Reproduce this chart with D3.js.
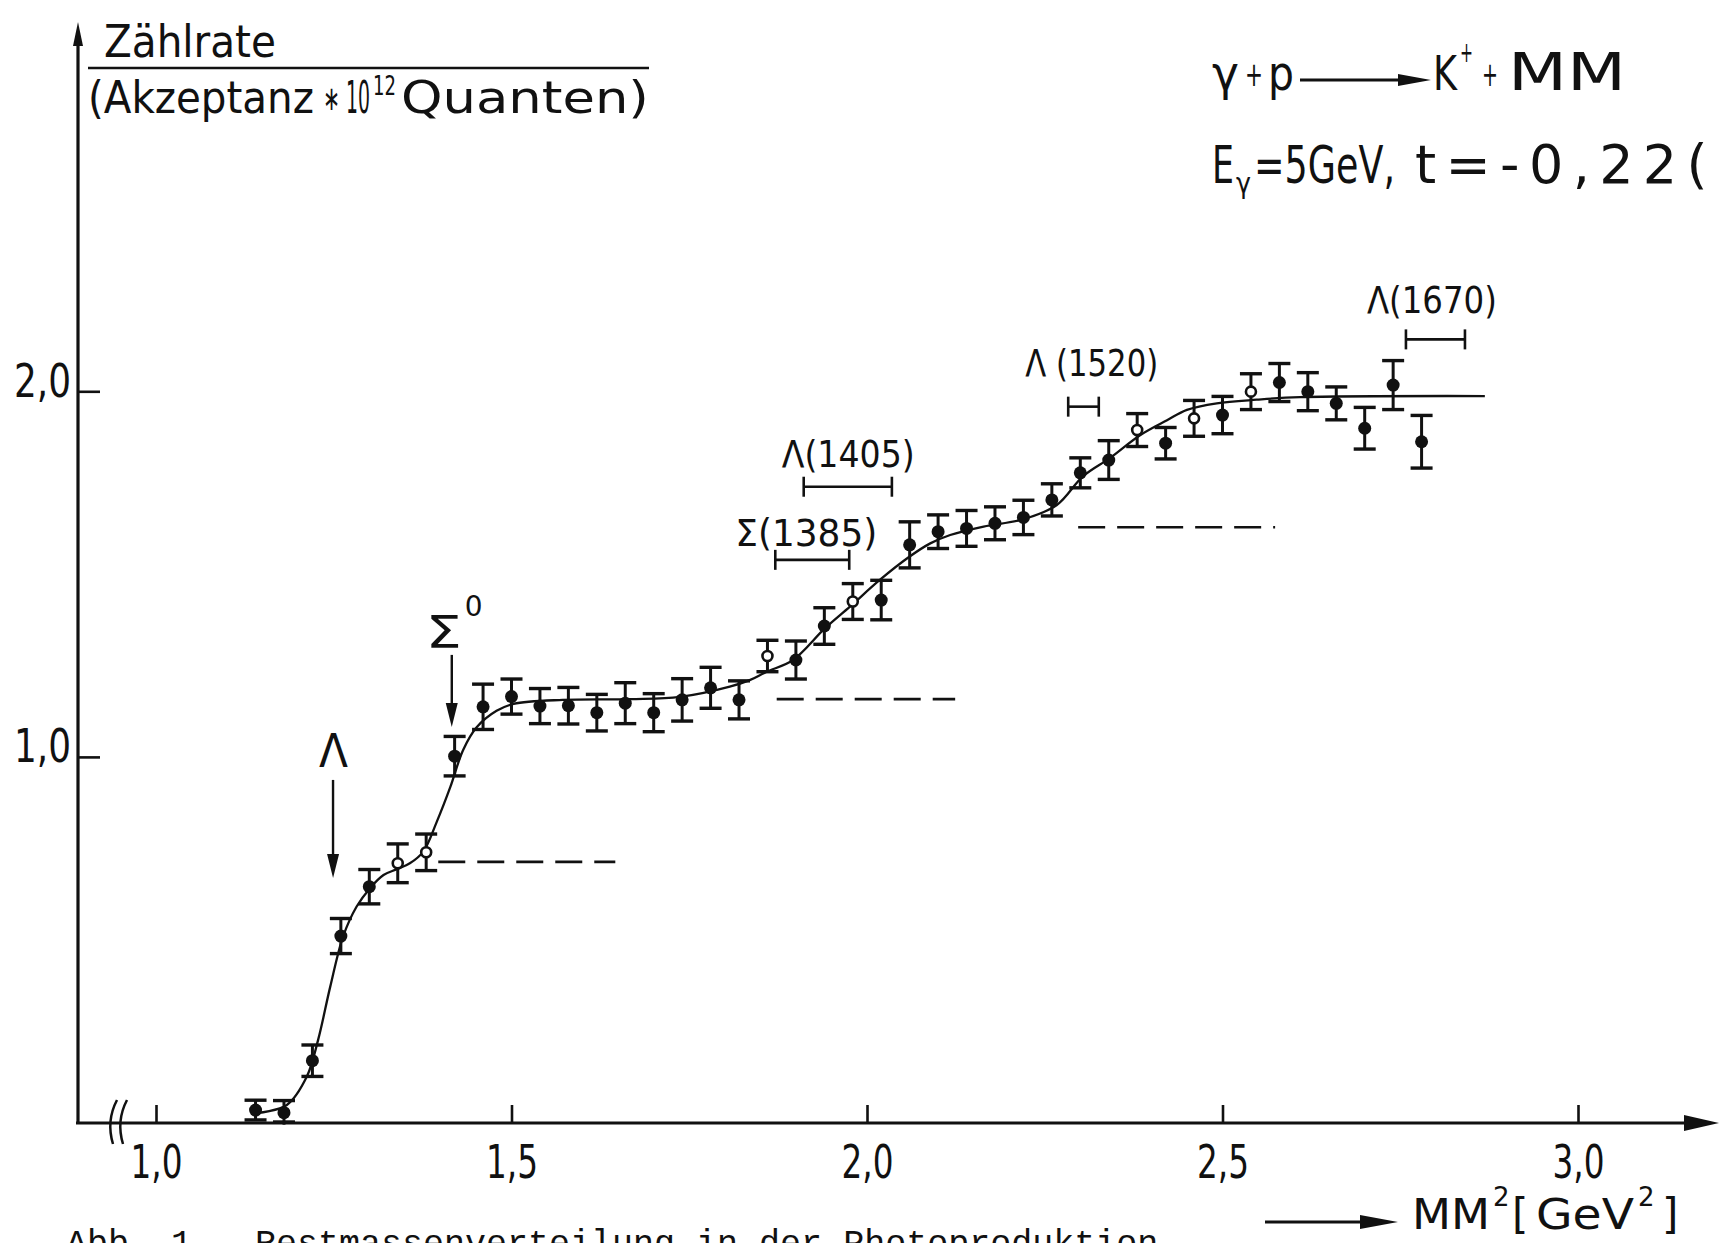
<!DOCTYPE html>
<html>
<head>
<meta charset="utf-8">
<script src="https://cdn.jsdelivr.net/npm/d3@7/dist/d3.min.js"></script>
<style>
  html, body { margin: 0; padding: 0; background: #fff; overflow: hidden; }
  svg { display: block; }
  text { font-family: "DejaVu Sans", "Liberation Sans", sans-serif; fill: #111; }
  .mono { font-family: "Liberation Mono", "DejaVu Sans Mono", monospace; }
</style>
</head>
<body>
<svg id="chart" width="1720" height="1243"></svg>
<script>
// ─── Data ────────────────────────────────────────────────────────────────────
const massSq = [1.14, 1.18, 1.22, 1.26, 1.30, 1.34, 1.38, 1.42, 1.46, 1.50,
                1.54, 1.58, 1.62, 1.66, 1.70, 1.74, 1.78, 1.82, 1.86, 1.90,
                1.94, 1.98, 2.02, 2.06, 2.10, 2.14, 2.18, 2.22, 2.26, 2.30,
                2.34, 2.38, 2.42, 2.46, 2.50, 2.54, 2.58, 2.62, 2.66, 2.70,
                2.74, 2.78];
const rate    = [0.034, 0.027, 0.169, 0.510, 0.645, 0.709, 0.739, 1.002, 1.137, 1.165,
                 1.139, 1.140, 1.121, 1.147, 1.121, 1.156, 1.189, 1.156, 1.276, 1.265,
                 1.358, 1.425, 1.429, 1.580, 1.616, 1.625, 1.639, 1.655, 1.703, 1.777,
                 1.812, 1.894, 1.858, 1.926, 1.935, 1.999, 2.024, 1.999, 1.967, 1.899,
                 2.017, 1.862];
const rateErr = [0.027, 0.033, 0.043, 0.048, 0.047, 0.053, 0.050, 0.054, 0.062, 0.048,
                 0.048, 0.050, 0.050, 0.056, 0.052, 0.058, 0.056, 0.052, 0.043, 0.052,
                 0.050, 0.049, 0.054, 0.063, 0.046, 0.049, 0.045, 0.047, 0.044, 0.041,
                 0.053, 0.045, 0.043, 0.049, 0.051, 0.049, 0.052, 0.052, 0.045, 0.057,
                 0.067, 0.072];
// points drawn as open circles in the original
const openAt  = [1.34, 1.38, 1.86, 1.98, 2.38, 2.46, 2.54];

// hand-drawn fit curve
const fitMass = [1.143, 1.184, 1.212, 1.228, 1.245, 1.263, 1.282, 1.301, 1.320, 1.339,
                 1.357, 1.376, 1.395, 1.414, 1.432, 1.451, 1.479, 1.503, 1.572, 1.667,
                 1.737, 1.807, 1.835, 1.859, 1.896, 1.941, 1.976, 2.018, 2.060, 2.089,
                 2.117, 2.164, 2.220, 2.267, 2.304, 2.342, 2.384, 2.422, 2.450, 2.492,
                 2.548, 2.609, 2.869];
const fitRate = [0.026, 0.048, 0.125, 0.226, 0.371, 0.508, 0.590, 0.641, 0.677, 0.693,
                 0.709, 0.741, 0.823, 0.918, 1.019, 1.081, 1.126, 1.145, 1.156, 1.158,
                 1.164, 1.192, 1.210, 1.233, 1.265, 1.352, 1.411, 1.484, 1.548, 1.584,
                 1.607, 1.630, 1.650, 1.689, 1.768, 1.818, 1.880, 1.921, 1.949, 1.967,
                 1.977, 1.984, 1.987];

// dashed plateau levels
const plateauLo    = [1.397, 1.873, 2.297];
const plateauHi    = [1.646, 2.124, 2.574];
const plateauLevel = [0.713, 1.158, 1.628];

// resonance width brackets
const resName  = ['Σ(1385)', 'Λ(1405)', 'Λ (1520)', 'Λ(1670)'];
const resLo    = [1.871, 1.911, 2.283, 2.758];
const resHi    = [1.975, 2.035, 2.326, 2.841];
const resLevel = [1.539, 1.739, 1.958, 2.142];

// threshold arrows
const thrName = ['Λ', 'Σ'];
const thrMass = [1.249, 1.416];
const thrTop  = [0.937, 1.279];
const thrTip  = [0.669, 1.082];

const xTicks = [1.0, 1.5, 2.0, 2.5, 3.0];
const yTicks = [1.0, 2.0];

// ─── Layout ──────────────────────────────────────────────────────────────────
const ink = '#111';
const svg = d3.select('#chart');
const x = d3.scaleLinear().domain([1, 3]).range([156, 1578]);
const y = d3.scaleLinear().domain([0, 2]).range([1122.5, 391.3]);
const axisX0 = 78, axisY0 = 1123;
const comma = d => d3.format('.1f')(d).replace('.', ',');

// label placement relative to each bracket (px)
const resLabelDx = [-40, -22, -43, -39];
const resLabelDy = [-14, -20, -31, -26];
const resLabelW  = [142, 133, 133, 130];

// text squeezed/stretched to a given width (scale) or spread out (letter-spacing)
function fitText(parent, px, py, size, str, width, spread) {
  const t = parent.append('text').attr('font-size', size).text(str);
  if (!width) return t.attr('x', px).attr('y', py);
  const w = t.node().getComputedTextLength();
  if (spread) {
    t.attr('x', px).attr('y', py).attr('letter-spacing', (width - w) / str.length);
  } else {
    t.attr('transform', `translate(${px},${py}) scale(${(width / w).toFixed(4)},1)`);
  }
  return t;
}

// ─── Axes ────────────────────────────────────────────────────────────────────
const xAxisG = svg.append('g')
  .attr('transform', `translate(0,${axisY0})`)
  .call(d3.axisBottom(x).tickValues(xTicks).tickSize(-18).tickFormat(comma));
xAxisG.select('.domain').remove();
xAxisG.attr('font-family', null).attr('font-size', null).attr('color', ink);
xAxisG.selectAll('.tick line').attr('stroke-width', 2.6);
xAxisG.selectAll('.tick text')
  .attr('y', 55).attr('dy', 0)
  .attr('font-size', 46)
  .attr('textLength', 52).attr('lengthAdjust', 'spacingAndGlyphs');

const yAxisG = svg.append('g')
  .attr('transform', `translate(${axisX0},0)`)
  .call(d3.axisLeft(y).tickValues(yTicks).tickSize(-22).tickPadding(7).tickFormat(comma));
yAxisG.select('.domain').remove();
yAxisG.attr('font-family', null).attr('font-size', null).attr('color', ink);
yAxisG.selectAll('.tick line').attr('stroke-width', 2.6);
yAxisG.selectAll('.tick text')
  .attr('dy', 0).attr('y', 5)
  .attr('font-size', 46)
  .attr('textLength', 57).attr('lengthAdjust', 'spacingAndGlyphs');

// axis lines with arrow heads
svg.append('line')
  .attr('x1', axisX0).attr('y1', axisY0 + 1).attr('x2', axisX0).attr('y2', 36)
  .attr('stroke', ink).attr('stroke-width', 3.2);
svg.append('path').attr('d', `M${axisX0},22 L${axisX0 - 5},46 L${axisX0 + 5},46 Z`).attr('fill', ink);

svg.append('line')
  .attr('x1', axisX0 - 2).attr('y1', axisY0).attr('x2', 1690).attr('y2', axisY0)
  .attr('stroke', ink).attr('stroke-width', 3.2);
svg.append('path').attr('d', `M1719,${axisY0} L1684,${axisY0 - 8} L1684,${axisY0 + 8} Z`).attr('fill', ink);

// axis break marks
[112, 122].forEach(bx => {
  svg.append('path')
    .attr('d', `M${bx + 5},1100 Q${bx - 6},1121 ${bx + 1},1144`)
    .attr('fill', 'none').attr('stroke', ink).attr('stroke-width', 2.5);
});

// ─── Y axis title (fraction) ─────────────────────────────────────────────────
fitText(svg, 104, 57, 45, 'Zählrate', 172);
svg.append('line').attr('x1', 88).attr('x2', 649).attr('y1', 68).attr('y2', 68)
  .attr('stroke', ink).attr('stroke-width', 2.5);
fitText(svg, 88, 113, 45, '(Akzeptanz', 226);
fitText(svg, 323, 110, 34, '∗', 17);
fitText(svg, 346, 113, 45, '10', 24);
fitText(svg, 373, 95, 26, '12', 23);
fitText(svg, 401, 113, 45, 'Quanten)', 248);

// ─── X axis title ────────────────────────────────────────────────────────────
svg.append('line').attr('x1', 1265).attr('x2', 1370).attr('y1', 1222).attr('y2', 1222)
  .attr('stroke', ink).attr('stroke-width', 3);
svg.append('path').attr('d', 'M1398,1222 L1360,1215 L1360,1229 Z').attr('fill', ink);
fitText(svg, 1412, 1229, 42, 'MM', 78);
fitText(svg, 1493, 1206, 26, '2');
fitText(svg, 1512, 1229, 42, '[');
fitText(svg, 1536, 1229, 42, 'GeV', 98);
fitText(svg, 1638, 1206, 26, '2');
fitText(svg, 1662, 1229, 42, ']');

// ─── Reaction title ──────────────────────────────────────────────────────────
fitText(svg, 1212, 90, 48, 'γ', 27);
fitText(svg, 1245, 86, 34, '+', 18);
fitText(svg, 1268, 90, 48, 'p', 26);
svg.append('line').attr('x1', 1300).attr('x2', 1405).attr('y1', 80).attr('y2', 80)
  .attr('stroke', ink).attr('stroke-width', 3);
svg.append('path').attr('d', 'M1431,80 L1398,74 L1398,86 Z').attr('fill', ink);
fitText(svg, 1433, 90, 48, 'K', 24);
fitText(svg, 1460, 62, 28, '+', 13);
fitText(svg, 1482, 86, 34, '+', 16);
fitText(svg, 1508, 90, 52, 'MM', 118);

fitText(svg, 1212, 183, 52, 'E', 22);
fitText(svg, 1236, 193, 28, 'γ', 15);
fitText(svg, 1254, 183, 52, '=5GeV,', 141);
fitText(svg, 1415, 183, 54, 't=-0,22(', 302, true);

// ─── Plot marks ──────────────────────────────────────────────────────────────
const plot = svg.append('g');

// fit curve
const fit = fitMass.map((m, i) => [m, fitRate[i]]);
plot.append('path')
  .datum(fit)
  .attr('fill', 'none').attr('stroke', ink).attr('stroke-width', 2.3)
  .attr('d', d3.line().x(d => x(d[0])).y(d => y(d[1])).curve(d3.curveCatmullRom.alpha(0.5)));

// dashed plateaus
plot.selectAll('line.plateau')
  .data(plateauLo.map((lo, i) => ({ lo, hi: plateauHi[i], v: plateauLevel[i] })))
  .join('line').attr('class', 'plateau')
  .attr('x1', d => x(d.lo)).attr('x2', d => x(d.hi))
  .attr('y1', d => y(d.v)).attr('y2', d => y(d.v))
  .attr('stroke', ink).attr('stroke-width', 2.6).attr('stroke-dasharray', '27,12');

// data points with error bars
const pts = massSq.map((m, i) => ({ m, v: rate[i], e: rateErr[i], open: openAt.includes(m) }));
const capW = 11;
const pg = plot.selectAll('g.pt').data(pts).join('g').attr('class', 'pt');
pg.append('line')
  .attr('x1', d => x(d.m)).attr('x2', d => x(d.m))
  .attr('y1', d => y(d.v - d.e)).attr('y2', d => y(d.v + d.e))
  .attr('stroke', ink).attr('stroke-width', 3);
pg.append('line')
  .attr('x1', d => x(d.m) - capW).attr('x2', d => x(d.m) + capW)
  .attr('y1', d => y(d.v + d.e)).attr('y2', d => y(d.v + d.e))
  .attr('stroke', ink).attr('stroke-width', 3.4);
pg.append('line')
  .attr('x1', d => x(d.m) - capW).attr('x2', d => x(d.m) + capW)
  .attr('y1', d => Math.min(y(d.v - d.e), axisY0 - 1)).attr('y2', d => Math.min(y(d.v - d.e), axisY0 - 1))
  .attr('stroke', ink).attr('stroke-width', 3.4);
pg.append('circle')
  .attr('cx', d => x(d.m)).attr('cy', d => y(d.v))
  .attr('r', d => d.open ? 5 : 6.5)
  .attr('fill', d => d.open ? '#fff' : ink)
  .attr('stroke', ink).attr('stroke-width', d => d.open ? 2.6 : 0);

// resonance width brackets and names
resName.forEach((name, i) => {
  const x0 = x(resLo[i]), x1 = x(resHi[i]), yy = y(resLevel[i]);
  plot.append('line').attr('x1', x0).attr('x2', x1).attr('y1', yy).attr('y2', yy)
    .attr('stroke', ink).attr('stroke-width', 2.6);
  [x0, x1].forEach(xe => plot.append('line')
    .attr('x1', xe).attr('x2', xe).attr('y1', yy - 10).attr('y2', yy + 10)
    .attr('stroke', ink).attr('stroke-width', 2.6));
  fitText(plot, x0 + resLabelDx[i], yy + resLabelDy[i], 37, name, resLabelW[i]);
});

// threshold arrows Λ and Σ0
thrName.forEach((name, i) => {
  const xa = x(thrMass[i]), yt = y(thrTop[i]), yp = y(thrTip[i]);
  plot.append('line').attr('x1', xa).attr('x2', xa).attr('y1', yt).attr('y2', yp - 18)
    .attr('stroke', ink).attr('stroke-width', 2.4);
  plot.append('path').attr('d', `M${xa},${yp} L${xa - 6},${yp - 24} L${xa + 6},${yp - 24} Z`)
    .attr('fill', ink);
});
{
  const xl = x(thrMass[0]);
  fitText(plot, xl - 14, 767, 46, thrName[0], 29);
  const xs = x(thrMass[1]);
  fitText(plot, xs - 26, 648, 44, thrName[1], 36);
  fitText(plot, xs + 13, 616, 28, '0');
}

// ─── Caption (cut off by the page edge in the scan) ──────────────────────────
svg.append('text').attr('class', 'mono')
  .attr('x', 66).attr('y', 1254).attr('font-size', 35)
  .attr('xml:space', 'preserve')
  .text('Abb. 1   Restmassenverteilung in der Photoproduktion');
</script>
</body>
</html>
